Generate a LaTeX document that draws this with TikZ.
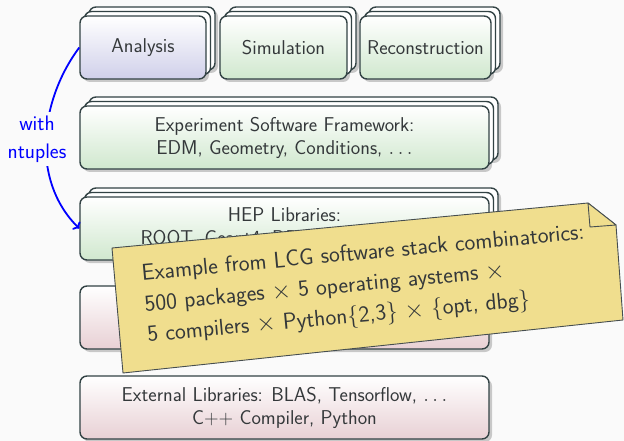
\documentclass[tikz,border=0pt]{standalone}
\usepackage{fontspec}
\usetikzlibrary{arrows.meta}
\definecolor{bg}{RGB}{250,250,250}
\definecolor{boxline}{RGB}{50,66,68}
\definecolor{txt}{RGB}{52,56,58}
\definecolor{lav}{RGB}{208,208,234}
\definecolor{grn}{RGB}{208,232,206}
\definecolor{pnk}{RGB}{232,208,212}
\definecolor{notey}{RGB}{240,222,142}
\definecolor{noteline}{RGB}{70,78,80}
\tikzset{
  layer/.style={draw=boxline, line width=1.4pt, rounded corners=7pt, inner sep=0pt,
    align=center, text=txt, font=\sffamily\fontsize{20}{23}\selectfont},
  backcopy/.style={draw=boxline, line width=1.4pt, rounded corners=7pt, fill=white},
  shade/.style={fill=black, opacity=0.2, rounded corners=7pt},
  bluelabel/.style={fill=bg, text=blue, align=center, inner xsep=2pt, inner ysep=4pt,
    font=\sffamily\fontsize{21}{28}\selectfont},
  notetext/.style={text=txt, align=left, inner sep=0pt, font=\sffamily\fontsize{23}{31}\selectfont},
}
% #1 name, #2 x1, #3 y1, #4 x2, #5 y2, #6 bottom colour, #7 copies (0/1), #8 text
\newcommand\layerbox[8]{%
  \fill[shade] (#2+3,#3+3) rectangle (#4+3,#5+3);
  \ifnum#7>0
    \fill[shade] (#2+12,#3-6) rectangle (#4+12,#5-6);
    \draw[backcopy] (#2+9,#3-9) rectangle (#4+9,#5-9);
    \draw[backcopy] (#2+4.5,#3-4.5) rectangle (#4+4.5,#5-4.5);
  \fi
  \node[layer, top color=white, bottom color=#6,
    minimum width={(#4-#2)*1pt}, minimum height={(#5-#3)*1pt}]
    (#1) at ({(#2+#4)/2},{(#3+#5)/2}) {#8};%
}
\begin{document}
\begin{tikzpicture}[x=1pt,y=-1pt]
\useasboundingbox (0,0) rectangle (624,441);
\fill[bg] (0,0) rectangle (624,441);

\layerbox{an}{80}{16}{206}{79}{lav}{1}{Analysis}
\layerbox{sim}{220}{16}{347}{79}{grn}{1}{Simulation}
\layerbox{rec}{360}{16}{491}{79}{grn}{1}{Reconstruction}
\layerbox{exp}{80}{106}{489}{169}{grn}{1}{Experiment Software Framework:\\EDM, Geometry, Conditions, $\ldots$}
\layerbox{hep}{80}{197}{489}{260}{grn}{1}{HEP Libraries:\\ROOT, Geant4, DD4hep, Gaudi, $\ldots$}
\layerbox{core}{80}{286}{489}{349}{pnk}{0}{}
\layerbox{ext}{80}{376}{489}{439}{pnk}{0}{External Libraries: BLAS, Tensorflow, $\ldots$\\C++ Compiler, Python}

% arrow with label
\draw[blue, line width=1.8pt, -{To[length=5pt,width=11pt]}]
  (an.west) .. controls (40,100) and (30,180) .. (hep.west);
\node[bluelabel] (lbl) at (37,139) {with\\ntuples};

% sticky note
\filldraw[fill=notey, draw=noteline, line width=0.9pt, line join=round]
  (112,248) -- (588,203) -- (616,225) -- (623,320) -- (123,373) -- cycle;
\filldraw[fill=notey, draw=noteline, line width=0.9pt, line join=round]
  (588,203) -- (590,227) -- (616,225) -- cycle;
\node[notetext, anchor=base west, rotate=5.3] (note) at (148,342)
   {Example from LCG software stack combinatorics:\\
    500 packages $\times$ 5 operating aystems $\times$\\
    5 compilers $\times$ Python\{2,3\} $\times$ \{opt, dbg\}};
\end{tikzpicture}
\end{document}
